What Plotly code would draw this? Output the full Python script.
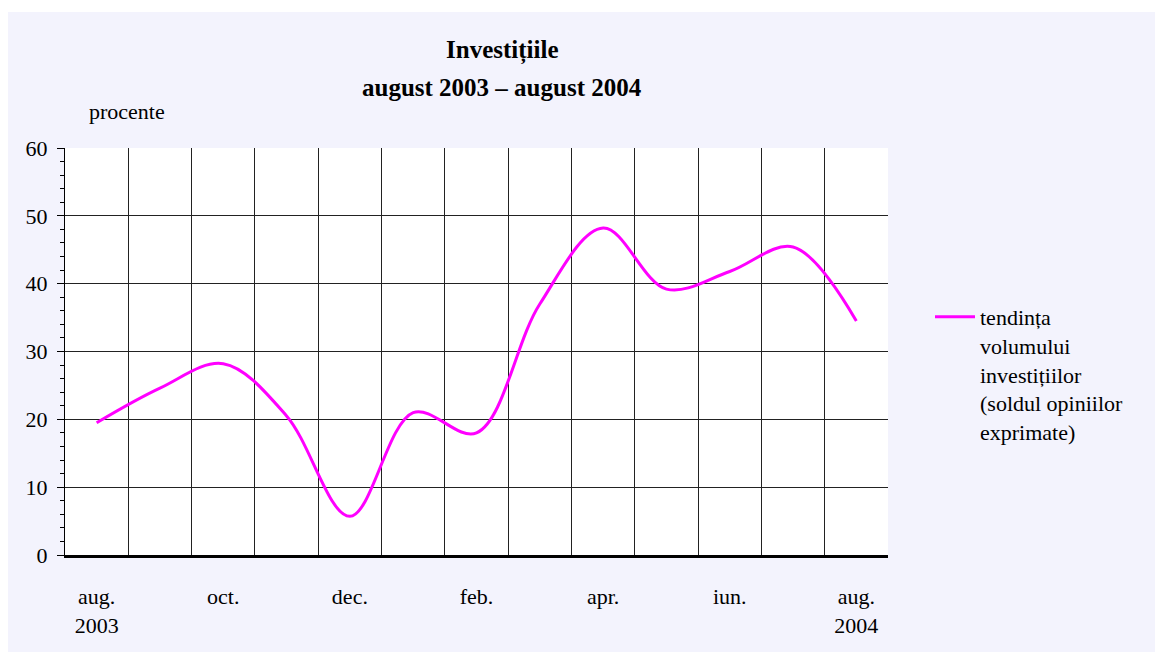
import plotly.graph_objects as go

months = ["aug.", "sep.", "oct.", "nov.", "dec.", "ian.", "feb.", "mar.", "apr.", "mai", "iun.", "iul.", "aug."]
values = [19.5, 24.6, 28.2, 20.5, 5.7, 21.0, 18.0, 37.0, 48.2, 39.2, 41.8, 45.4, 34.5]
tick_positions = [0, 2, 4, 6, 8, 10, 12]
tick_labels = ["aug.<br>2003", "oct.", "dec.", "feb.", "apr.", "iun.", "aug.<br>2004"]
series_name = "tendința<br>volumului<br>investițiilor<br>(soldul opiniilor<br>exprimate)"

FONT = "Liberation Serif, Times New Roman, serif"

x = list(range(len(months)))
fig = go.Figure()
fig.add_trace(go.Scatter(
    x=x, y=values, mode="lines", name=series_name,
    line=dict(color="#FF00FF", width=3, shape="spline", smoothing=1.0),
    hoverinfo="skip",
))

OFF = 8  # page body margin
W, H = 1163 - OFF, 652 - OFF
L, T = 65 - OFF, 148 - OFF
R = W - (888 - OFF)
B = H - (555 - OFF)
pw, ph = W - L - R, H - T - B


def px(sx):
    return (sx - OFF - L) / pw


def py(sy):
    return ((555 - OFF) - (sy - OFF)) / ph


fig.update_layout(
    width=W, height=H,
    margin=dict(l=L, r=R, t=T, b=B),
    paper_bgcolor="#F3F3FD",
    plot_bgcolor="white",
    font=dict(family=FONT, size=22, color="black"),
    showlegend=True,
    legend=dict(x=px(930), y=py(296), xanchor="left", yanchor="top",
                bgcolor="rgba(0,0,0,0)", valign="top", font=dict(size=22, family=FONT),
                itemwidth=40, tracegroupgap=0),
    xaxis=dict(
        range=[-0.5, 12.5], tickmode="array", tickvals=tick_positions, ticktext=tick_labels,
        showgrid=False, zeroline=False, ticks="", ticklabelstandoff=20,
        showline=True, linecolor="black", linewidth=3,
        minor=dict(tickmode="array", tickvals=[i - 0.5 for i in range(14)], showgrid=True,
                   gridcolor="#222222", gridwidth=1, ticks=""),
        tickfont=dict(size=22, family=FONT),
    ),
    yaxis=dict(
        range=[0, 60], tickmode="linear", tick0=0, dtick=10,
        showgrid=True, gridcolor="#222222", gridwidth=1, zeroline=False,
        showline=True, linecolor="black", linewidth=1,
        ticks="outside", ticklen=7, tickcolor="black", tickwidth=1, ticklabelstandoff=5,
        minor=dict(dtick=2, ticks="outside", ticklen=4, tickcolor="black", showgrid=False),
        tickfont=dict(size=22, family=FONT),
    ),
    shapes=[
        dict(type="rect", xref="paper", yref="paper", x0=px(-50), x1=px(1250),
             y0=py(12), y1=py(-20), fillcolor="white", line=dict(width=0), layer="below"),
    ],
    annotations=[
        dict(text="<b>Investițiile</b>", xref="paper", yref="paper", x=px(502), y=py(51),
             showarrow=False, font=dict(size=25, family=FONT), xanchor="center", yanchor="middle"),
        dict(text="<b>august 2003 – august 2004</b>", xref="paper", yref="paper", x=px(502), y=py(88),
             showarrow=False, font=dict(size=25, family=FONT), xanchor="center", yanchor="middle"),
        dict(text="procente", xref="paper", yref="paper", x=px(87), y=py(111),
             showarrow=False, font=dict(size=22, family=FONT), xanchor="left", yanchor="middle"),
    ],
)

fig.write_html("out.html")
